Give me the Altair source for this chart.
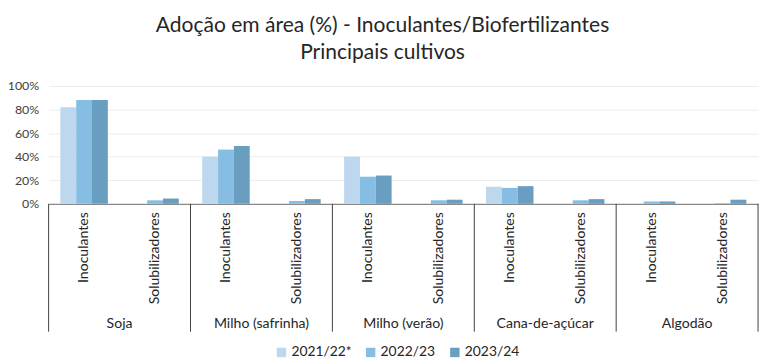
import altair as alt
import pandas as pd

crops = ["Soja", "Milho (safrinha)", "Milho (verão)", "Cana-de-açúcar", "Algodão"]
subs = ["Inoculantes", "Solubilizadores"]
years = ["2021/22*", "2022/23", "2023/24"]
colors = ["#BDD7EE", "#86BEE3", "#6A9EC0"]

# values per crop, per sub-category, per year (%)
v_2021 = [82, 0, 40, 0, 40, 0, 14.5, 0, 0, 0]
v_2022 = [88, 3, 46, 2.5, 23, 3, 13.5, 3, 2, 0.5]
v_2023 = [88, 4.5, 49, 4, 24, 3.5, 15, 4, 2, 3.5]

keys = [f"{c}|{s}" for c in crops for s in subs]
rows = []
for yr, vals in zip(years, [v_2021, v_2022, v_2023]):
    for k, v in zip(keys, vals):
        rows.append({"key": k, "year": yr, "value": v})
df = pd.DataFrame(rows)

crop_df = pd.DataFrame({"crop": crops, "key": [f"{c}|Inoculantes" for c in crops]})
end_df = pd.DataFrame({"key": [keys[-1]]})

W, H = 716, 119
FONT = "Lato"

xscale = alt.Scale(domain=keys, paddingInner=0, paddingOuter=0)

bars = alt.Chart(df).mark_bar().encode(
    x=alt.X("key:N", scale=xscale, sort=keys, title=None,
            axis=alt.Axis(labelExpr="split(datum.label,'|')[1]", labelAngle=-90,
                          labelFontSize=14.2, labelColor="#262626", labelFont=FONT,
                          labelPadding=8, ticks=False, domainColor="#6F6F6F",
                          domainWidth=1, grid=False)),
    xOffset=alt.XOffset("year:N", sort=years,
                        scale=alt.Scale(domain=years, paddingInner=0, paddingOuter=0.74)),
    y=alt.Y("value:Q", scale=alt.Scale(domain=[0, 100]), title=None,
            axis=alt.Axis(values=[0, 20, 40, 60, 80, 100], labelExpr="datum.value + '%'",
                          labelFontSize=12.5, labelColor="#404040", labelFont=FONT,
                          labelPadding=10, ticks=False, domain=False,
                          gridColor="#EDEDED", gridWidth=1)),
    color=alt.Color("year:N", sort=years, scale=alt.Scale(domain=years, range=colors),
                    legend=alt.Legend(title=None, orient="none", direction="horizontal",
                                      legendX=228, legendY=262, symbolType="square",
                                      symbolSize=90, symbolStrokeWidth=0,
                                      labelFontSize=14, labelFont=FONT,
                                      labelColor="#262626", columnPadding=12,
                                      symbolOffset=0, labelOffset=3)),
)

seps = alt.Chart(crop_df).mark_rule(color="#404040", strokeWidth=1).encode(
    x=alt.X("key:N", scale=xscale, sort=keys, bandPosition=0),
    y=alt.value(H), y2=alt.value(H + 129),
)
sep_end = alt.Chart(end_df).mark_rule(color="#404040", strokeWidth=1).encode(
    x=alt.X("key:N", scale=xscale, sort=keys, bandPosition=1),
    y=alt.value(H), y2=alt.value(H + 129),
)
crop_text = alt.Chart(crop_df).mark_text(fontSize=14.2, font=FONT, color="#262626",
                                         baseline="middle").encode(
    x=alt.X("key:N", scale=xscale, sort=keys, bandPosition=1),
    y=alt.value(H + 121),
    text="crop:N",
)

chart = alt.layer(bars, seps, sep_end, crop_text).properties(
    width=W, height=H,
    autosize=alt.AutoSizeParams(type="none"),
    padding={"left": 41, "top": 77, "right": 6, "bottom": 159},
    title=alt.TitleParams(
        text=["Adoção em área (%) - Inoculantes/Biofertilizantes", "Principais cultivos"],
        fontSize=21.2, font=FONT, fontWeight="normal", color="#262626",
        anchor="middle", dx=-21, offset=17, lineHeight=27,
    ),
).configure_view(stroke=None)

chart.save("out.html", embed_options={"renderer": "svg", "actions": False})
